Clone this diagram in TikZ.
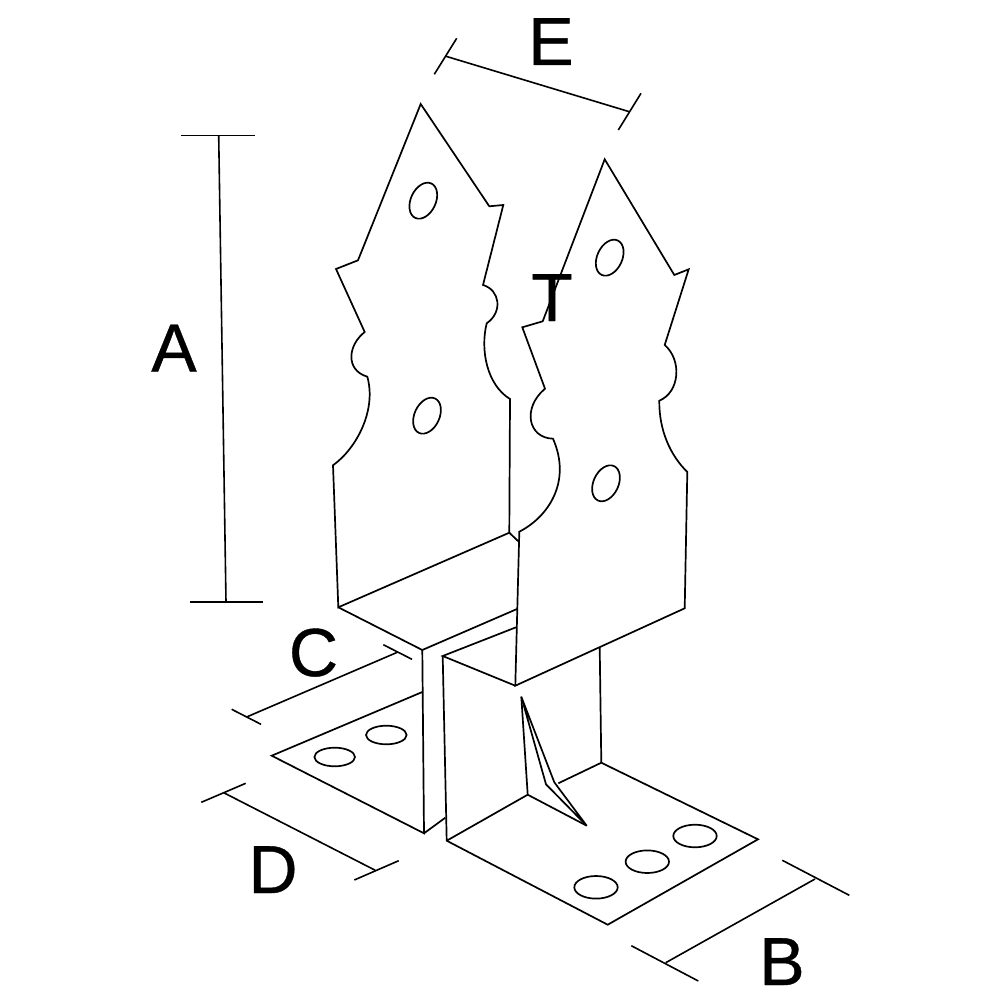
\documentclass[tikz,border=0pt]{standalone}
\usepackage{fontspec}
\newfontfamily\dimfont[FakeBold=0.6]{Liberation Sans}

\begin{document}
\begin{tikzpicture}[x=0.5pt,y=-0.5pt,line width=0.85pt,
		bracket/.style={line join=miter},
		hole/.style={line width=0.85pt},
		dimline/.style={line width=0.8pt},
		letter/.style={anchor=base, inner sep=0pt, font=\dimfont\fontsize{34}{34}\selectfont},
	]
	\useasboundingbox (0,0) rectangle (1000,1000);
	
	% left plate
	\draw[bracket] (420.7,104) -- (489.3,206.3) -- (503.3,205) -- (483,285)
		.. controls (500,290) and (503,312) .. (486.7,323.3)
		.. controls (480,350) and (487,385) .. (510,399)
		-- (509.3,532.7) -- (338.3,607.3) -- (333,465.3)
		.. controls (356.7,448.3) and (376.7,410) .. (367.3,376.7)
		.. controls (345,370) and (348,345) .. (364.7,332)
		-- (336,269) -- (358,260.3) -- cycle;
	\draw[bracket] (509.3,532.7) -- (518.7,541.7);
	
	% right plate
	\draw[bracket] (604.7,159.3) -- (674.3,275) -- (688.7,269.3) -- (664.7,345)
		.. controls (682,360) and (680,392) .. (659.3,400.7)
		.. controls (659,430) and (670,455) .. (687.3,472)
		-- (684.7,608.3) -- (515.3,685.7) -- (519.3,531.7)
		.. controls (548,517) and (572,482) .. (553,438.7)
		.. controls (528,438) and (522,408) .. (545,388.7)
		-- (522.3,327.3) -- (542.7,321.3) -- cycle;
	
	% left foot
	\draw[bracket] (338.3,607.3) -- (422.3,650) -- (517,609);
	\draw[bracket] (422.3,650) -- (424,833.3) -- (271.7,755.7) -- (422.3,692);
	\draw[bracket] (424,833.3) -- (445.3,817.7);
	
	% right foot
	\draw[bracket] (516,627.3) -- (442.7,656) -- (515.3,685.7);
	\draw[bracket] (442.7,656) -- (446.7,840.7) -- (607.7,924.7) -- (758,839.3) -- (601.3,762.7) -- (599.7,647.3);
	\draw[bracket] (446.7,840.7) -- (527.7,794.7) -- (586.7,825.7);
	\draw[bracket] (527.7,794.7) -- (521.3,696.7);
	\draw[bracket] (601.3,762.7) -- (558.3,783.3);
	
	% gusset
	\draw[bracket] (521.3,696.7) -- (554.3,782.3) -- (586.7,825.7) -- (546,784.3) -- cycle;
	
	% holes
	\foreach \hx/\hy in {423.3/200.7, 427/415.7, 609.7/257.7, 606/483.3}
		\draw[hole] (\hx,\hy) ellipse [x radius=12.5, y radius=19, rotate=-25];
	\foreach \hx/\hy in {334.7/757, 386.3/735}
		\draw[hole] (\hx,\hy) ellipse [x radius=20.3, y radius=9.3];
	\foreach \hx/\hy in {596/887.3, 647.3/861.7, 695/836}
		\draw[hole] (\hx,\hy) ellipse [x radius=21.7, y radius=11.3];
	
	% dimensions
	\coordinate (Atop) at (218.7,135.7);
	\coordinate (Abot) at (226,602);
	\coordinate (Bleft) at (665.7,962.7);
	\coordinate (Bright) at (815,879);
	\coordinate (Cleft) at (247.3,716.7);
	\coordinate (Cright) at (397.3,652.3);
	\coordinate (Dleft) at (224.3,793);
	\coordinate (Dright) at (375.3,870.3);
	\coordinate (Eleft) at (446,56.3);
	\coordinate (Eright) at (629.3,111.7);
	
	\draw[dimline] (Atop) -- (Abot);
	\draw[dimline] (Atop)++(-37.4,0) --++(74,0);
	\draw[dimline] (Abot)++(-36,0) --++(73,0);
	
	\draw[dimline] (Bleft) -- (Bright);
	\draw[dimline] (Bleft)++(-34.4,-17) --++(67,35.3);
	\draw[dimline] (Bright)++(-32.7,-18.7) --++(67,35);
	
	\draw[dimline] (Cleft) -- (Cright);
	\draw[dimline] (Cleft)++(-15.6,-7.4) --++(29.3,15);
	\draw[dimline] (Cright)++(-14,-7.6) --++(28.7,14.6);
	
	\draw[dimline] (Dleft) -- (Dright);
	\draw[dimline] (Dleft)++(-23,9.3) --++(44.4,-19);
	\draw[dimline] (Dright)++(-21,9.7) --++(44.4,-19.3);
	
	\draw[dimline] (Eleft) -- (Eright);
	\draw[dimline] (Eleft)++(10.7,-18) --++(-22.4,36);
	\draw[dimline] (Eright)++(11.7,-18.4) --++(-22.7,36.7);
	
	\node[letter] (labA) at (174,371.5) {A};
	\node[letter] (labB) at (782,985) {B};
	\node[letter] (labC) at (313.5,676) {C};
	\node[letter] (labD) at (273,893) {D};
	\node[letter] (labE) at (551,65) {E};
	\node[letter] (labT) at (552,321) {T};
\end{tikzpicture}
\end{document}
